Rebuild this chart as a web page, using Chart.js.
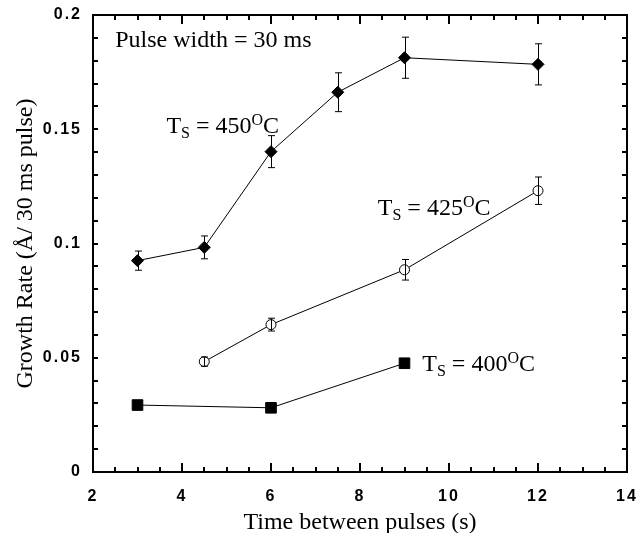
<!DOCTYPE html>
<html>
<head>
<meta charset="utf-8">
<script src="https://cdn.jsdelivr.net/npm/chart.js@4.4.1/dist/chart.umd.min.js"></script>
<style>
    html, body { margin: 0; padding: 0; background: #fff; }
    #wrap { width: 639px; height: 533px; }
</style>
</head>
<body>
<div id="wrap"><canvas id="chart" width="639" height="533"></canvas></div>
<script>
// Ts = 450 C
const x450 = [3, 4.5, 6, 7.5, 9, 12];
const y450 = [0.0925, 0.0983, 0.1402, 0.1662, 0.1813, 0.1784];
const err450 = [0.0042, 0.0050, 0.0070, 0.0085, 0.0090, 0.0090];

// Ts = 425 C
const x425 = [4.5, 6, 9, 12];
const y425 = [0.0483, 0.0645, 0.0885, 0.1231];
const err425 = [0.0020, 0.0028, 0.0045, 0.0060];

// Ts = 400 C
const x400 = [3, 6, 9];
const y400 = [0.0293, 0.0281, 0.0476];

const xTicks = [2, 4, 6, 8, 10, 12, 14];
const yTicks = [0, 0.05, 0.1, 0.15, 0.2];
const yTickLabels = ['0', '0.05', '0.1', '0.15', '0.2'];

// annotation text: [x, y, main, sub, rest, sup, tail]
const notes = [
    [2.5, 0.186, 'Pulse width = 30 ms', '', '', '', ''],
    [3.65, 0.1484, 'T', 'S', ' = 450', 'O', 'C'],
    [8.4, 0.1124, 'T', 'S', ' = 425', 'O', 'C'],
    [9.4, 0.0442, 'T', 'S', ' = 400', 'O', 'C']
];

const toPts = (xs, ys) => xs.map((x, i) => ({ x: x, y: ys[i] }));

const serif = '"Liberation Serif", "Times New Roman", serif';

// wide-spaced tick digits, like the original
const spacing = {
    id: 'spacing',
    beforeDraw(chart) { chart.ctx.letterSpacing = '2px'; },
    beforeDatasetsDraw(chart) { chart.ctx.letterSpacing = '0px'; }
};

const frame = {
    id: 'frame',
    afterDatasetsDraw(chart) {
        const ctx = chart.ctx;
        const a = chart.chartArea;
        const xs = chart.scales.x, ys = chart.scales.y;
        ctx.save();
        ctx.letterSpacing = '0px';
        ctx.strokeStyle = '#000';
        ctx.lineWidth = 1;

        // error bars
        const bars = [[x450, y450, err450], [x425, y425, err425]];
        bars.forEach(([xv, yv, ev]) => {
            xv.forEach((x, i) => {
                const px = Math.round(xs.getPixelForValue(x)) + 0.5;
                const top = ys.getPixelForValue(yv[i] + ev[i]);
                const bot = ys.getPixelForValue(yv[i] - ev[i]);
                ctx.beginPath();
                ctx.moveTo(px, top); ctx.lineTo(px, bot);
                ctx.moveTo(px - 3.5, top); ctx.lineTo(px + 3.5, top);
                ctx.moveTo(px - 3.5, bot); ctx.lineTo(px + 3.5, bot);
                ctx.stroke();
            });
        });

        // box
        ctx.lineWidth = 2;
        ctx.strokeRect(a.left, a.top, a.right - a.left, a.bottom - a.top);

        // inward ticks
        ctx.beginPath();
        for (let v = 2; v <= 14.001; v += 0.5) {
            const px = Math.round(xs.getPixelForValue(v));
            const len = Math.abs(v - Math.round(v / 2) * 2) < 1e-6 ? 9 : 5;
            ctx.moveTo(px, a.bottom); ctx.lineTo(px, a.bottom - len);
            ctx.moveTo(px, a.top); ctx.lineTo(px, a.top + len);
        }
        for (let v = 0; v <= 0.2001; v += 0.01) {
            const py = Math.round(ys.getPixelForValue(v));
            ctx.moveTo(a.left, py); ctx.lineTo(a.left + 5, py);
            ctx.moveTo(a.right, py); ctx.lineTo(a.right - 5, py);
        }
        ctx.stroke();

        // axis titles
        ctx.fillStyle = '#000';
        ctx.font = '24px ' + serif;
        ctx.textAlign = 'center';
        ctx.textBaseline = 'alphabetic';
        ctx.fillText('Time between pulses (s)', (a.left + a.right) / 2, 529);
        ctx.save();
        ctx.translate(32, (a.top + a.bottom) / 2);
        ctx.rotate(-Math.PI / 2);
        ctx.fillText('Growth Rate (\u00C5/ 30 ms pulse)', 0, 0);
        ctx.restore();

        // annotations
        ctx.textAlign = 'left';
        notes.forEach(([x, y, main, sub, rest, sup, tail]) => {
            let px = xs.getPixelForValue(x);
            const py = ys.getPixelForValue(y);
            ctx.font = '24px ' + serif;
            ctx.fillText(main, px, py);
            px += ctx.measureText(main).width;
            if (sub) {
                ctx.font = '16px ' + serif;
                ctx.fillText(sub, px, py + 5);
                px += ctx.measureText(sub).width;
                ctx.font = '24px ' + serif;
                ctx.fillText(rest, px, py);
                px += ctx.measureText(rest).width;
                ctx.font = '16px ' + serif;
                ctx.fillText(sup, px, py - 8);
                px += ctx.measureText(sup).width;
                ctx.font = '24px ' + serif;
                ctx.fillText(tail, px, py);
            }
        });
        ctx.restore();
    }
};

const lineSet = (data, style, radius, fill) => ({
    data: data,
    showLine: true,
    borderColor: '#000',
    borderWidth: 1,
    pointStyle: style,
    pointRadius: radius,
    pointBorderWidth: 1,
    pointBorderColor: '#000',
    pointBackgroundColor: fill,
    tension: 0
});

new Chart(document.getElementById('chart'), {
    type: 'scatter',
    data: {
        datasets: [
            lineSet(toPts(x450, y450), 'rectRot', 6, '#000'),
            lineSet(toPts(x425, y425), 'circle', 5, '#fff'),
            lineSet(toPts(x400, y400), 'rect', 7.5, '#000')
        ]
    },
    options: {
        responsive: false,
        animation: false,
        layout: { padding: { top: 15, right: 12, left: 0, bottom: 0 } },
        plugins: { legend: { display: false }, tooltip: { enabled: false } },
        scales: {
            x: {
                type: 'linear',
                min: 2, max: 14,
                afterBuildTicks: s => { s.ticks = xTicks.map(v => ({ value: v })); },
                afterFit: s => { s.height = 61; s.paddingLeft = 0; s.paddingRight = 0; },
                grid: { display: false, drawTicks: false },
                border: { display: false },
                ticks: {
                    color: '#000',
                    padding: 15,
                    font: { family: '"Liberation Sans", Arial, sans-serif', size: 16, weight: 'bold' },
                    maxRotation: 0
                }
            },
            y: {
                type: 'linear',
                min: 0, max: 0.2,
                afterBuildTicks: s => { s.ticks = yTicks.map(v => ({ value: v })); },
                afterFit: s => { s.width = 93; s.paddingTop = 0; s.paddingBottom = 0; },
                grid: { display: false, drawTicks: false },
                border: { display: false },
                ticks: {
                    color: '#000',
                    padding: 11,
                    font: { family: '"Liberation Sans", Arial, sans-serif', size: 16, weight: 'bold' },
                    callback: (v, i) => yTickLabels[yTicks.indexOf(v)] ?? ''
                }
            }
        }
    },
    plugins: [spacing, frame]
});
</script>
</body>
</html>
